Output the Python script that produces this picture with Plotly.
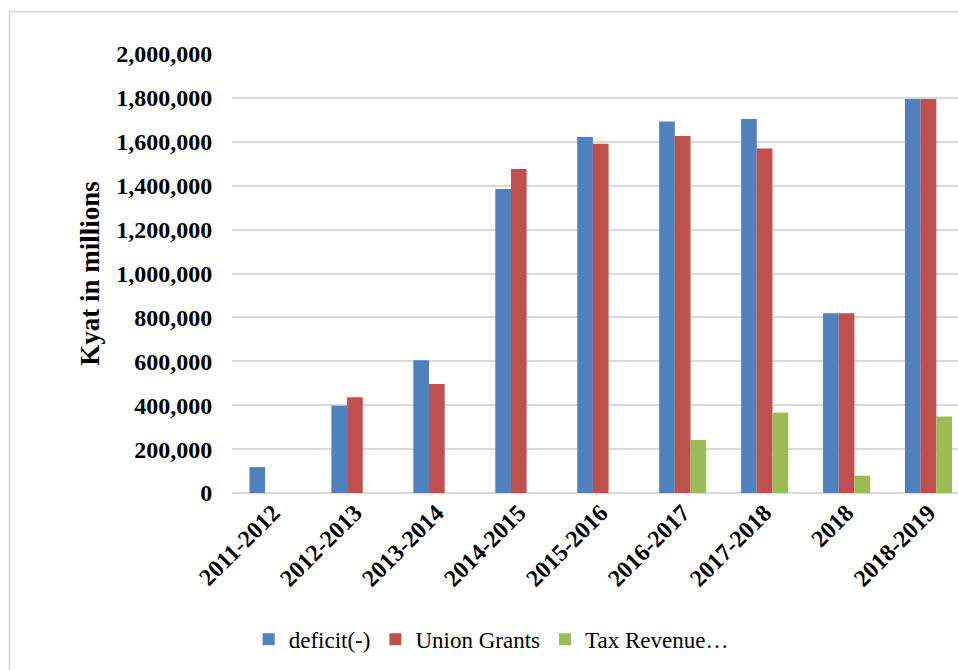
import plotly.graph_objects as go

categories = ["2011-2012", "2012-2013", "2013-2014", "2014-2015", "2015-2016",
              "2016-2017", "2017-2018", "2018", "2018-2019"]
deficit = [118000, 397000, 605000, 1385000, 1622000, 1692000, 1704000, 819000, 1795000]
union_grants = [None, 436000, 497000, 1476000, 1591000, 1626000, 1569000, 819000, 1795000]
tax_revenue = [None, None, None, None, None, 241000, 366000, 79000, 348000]
y_ticks = [0, 200000, 400000, 600000, 800000, 1000000, 1200000, 1400000,
           1600000, 1800000, 2000000]

FONT = "Liberation Serif, Times New Roman, serif"

fig = go.Figure()
fig.add_trace(go.Bar(x=categories, y=deficit, name="deficit(-)",
                     marker=dict(color="#4F81BD", line=dict(width=0))))
fig.add_trace(go.Bar(x=categories, y=union_grants, name="Union Grants",
                     marker=dict(color="#C0504D", line=dict(width=0))))
fig.add_trace(go.Bar(x=categories, y=tax_revenue, name="Tax Revenue…",
                     marker=dict(color="#9BBB59", line=dict(width=0))))

fig.update_layout(
    width=958, height=670,
    margin=dict(l=232, r=0, t=54, b=177),
    paper_bgcolor="white", plot_bgcolor="white",
    barmode="group", bargap=0.426, bargroupgap=0,
    font=dict(family=FONT, color="black"),
    showlegend=True,
    legend=dict(orientation="h", x=0.357, xanchor="center", y=-0.333, yanchor="middle",
                font=dict(family=FONT, size=23, color="black"),
                itemwidth=30, traceorder="normal"),
    shapes=[dict(type="rect", xref="paper", yref="paper",
                 x0=-0.3065, x1=1.2, y0=-0.6, y1=1.0963,
                 line=dict(color="#d9d9d9", width=1.5), fillcolor="rgba(0,0,0,0)",
                 layer="below")],
)

fig.update_xaxes(
    range=[-0.5, 8.36], automargin=False,
    tickangle=-45, tickfont=dict(family=FONT, size=24, color="black", weight="bold"),
    showgrid=False, showline=False, ticks="", zeroline=False,
)
fig.update_yaxes(
    range=[0, 2000000], automargin=False,
    tickvals=y_ticks, tickformat=",d",
    tickfont=dict(family=FONT, size=24, color="black", weight="bold"),
    showgrid=True, gridcolor="#d9d9d9", gridwidth=2,
    zeroline=True, zerolinecolor="#d9d9d9", zerolinewidth=2,
    showline=False, ticks="outside", ticklen=14, tickcolor="rgba(0,0,0,0)",
    title=dict(text="Kyat in millions", standoff=8,
               font=dict(family=FONT, size=27, color="black", weight="bold")),
)

fig.write_html("out.html", config={"displayModeBar": False},
               post_script="document.body.style.margin='0';document.body.style.overflow='hidden';")
